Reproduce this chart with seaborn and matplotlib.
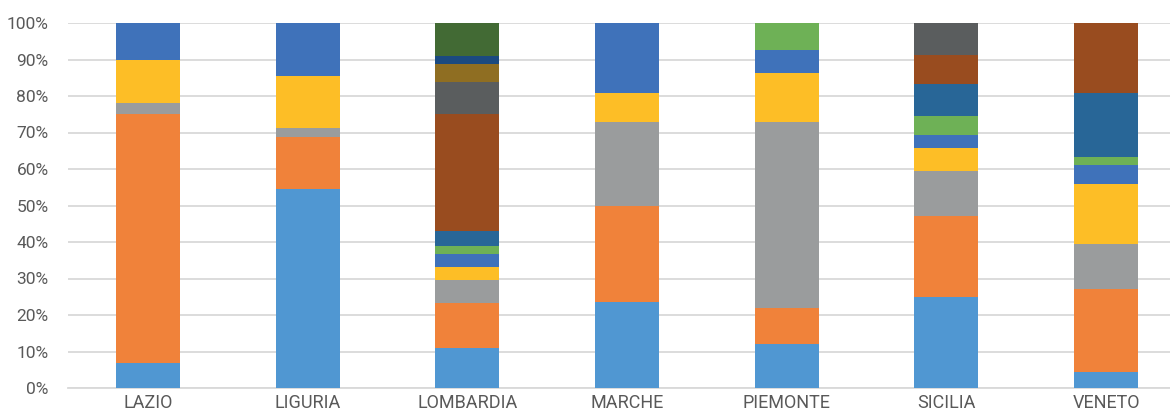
import matplotlib
matplotlib.use("Agg")
import matplotlib.pyplot as plt
import seaborn as sns
import numpy as np
import pandas as pd

regions = ["LAZIO", "LIGURIA", "LOMBARDIA", "MARCHE", "PIEMONTE", "SICILIA", "VENETO"]

# shares (%) per series, bottom to top; 0 = series absent
s1 = [6.8, 54.4, 11.0, 23.5, 12.1, 24.9, 4.3]
s2 = [68.2, 14.4, 12.4, 26.3, 9.8, 22.3, 22.7]
s3 = [3.0, 2.5, 6.2, 23.2, 51.1, 12.3, 12.4]
s4 = [12.0, 14.1, 3.5, 7.8, 13.4, 6.3, 16.6]
s5 = [10.0, 14.6, 3.7, 19.2, 6.2, 3.5, 5.1]
s6 = [0, 0, 2.1, 0, 7.4, 5.2, 2.2]
s7 = [0, 0, 4.1, 0, 0, 8.9, 17.4]
s8 = [0, 0, 32.0, 0, 0, 7.7, 19.3]
s9 = [0, 0, 8.8, 0, 0, 8.9, 0]
s10 = [0, 0, 5.1, 0, 0, 0, 0]
s11 = [0, 0, 2.1, 0, 0, 0, 0]
s12 = [0, 0, 9.0, 0, 0, 0, 0]

series = [s1, s2, s3, s4, s5, s6, s7, s8, s9, s10, s11, s12]
colors = ["#5097D2", "#F0823A", "#9A9C9D", "#FDBE26", "#3F72BA", "#6EB156",
          "#286697", "#994C1F", "#5A5D5E", "#8F6E22", "#1B4A80", "#426A34"]

W, H = 1170, 413
fig = plt.figure(figsize=(W / 100, H / 100), dpi=100)
ax = fig.add_axes([68 / W, 25 / H, 1118 / W, 365 / H])

cum = np.cumsum(np.array(series, dtype=float), axis=0)
for i in range(len(series) - 1, -1, -1):
    df = pd.DataFrame({"region": regions, "value": cum[i]})
    sns.barplot(data=df, x="region", y="value", color=colors[i], width=0.4,
                saturation=1, ax=ax, order=regions, edgecolor="none",
                linewidth=0, zorder=3)

ax.set_ylim(0, 100)
ax.set_xlim(-0.5, 6.5)
ax.set_yticks(np.arange(0, 101, 10))
ax.set_yticklabels([f"{v}%" for v in range(0, 101, 10)])
ax.set_xlabel("")
ax.set_ylabel("")
ax.grid(axis="y", color="#D9D9D9", linewidth=1.3, zorder=0)
ax.set_axisbelow(True)
for s in ["top", "right", "left"]:
    ax.spines[s].set_visible(False)
ax.spines["bottom"].set_color("#D9D9D9")
ax.spines["bottom"].set_linewidth(1.3)
ax.tick_params(axis="both", length=0, colors="#595959")
ax.tick_params(axis="y", pad=14, labelsize=12.5)
ax.tick_params(axis="x", pad=4, labelsize=13)
for lab in ax.get_xticklabels() + ax.get_yticklabels():
    lab.set_fontfamily("Roboto")
    lab.set_color("#595959")

fig.savefig("out.png", dpi=100)
